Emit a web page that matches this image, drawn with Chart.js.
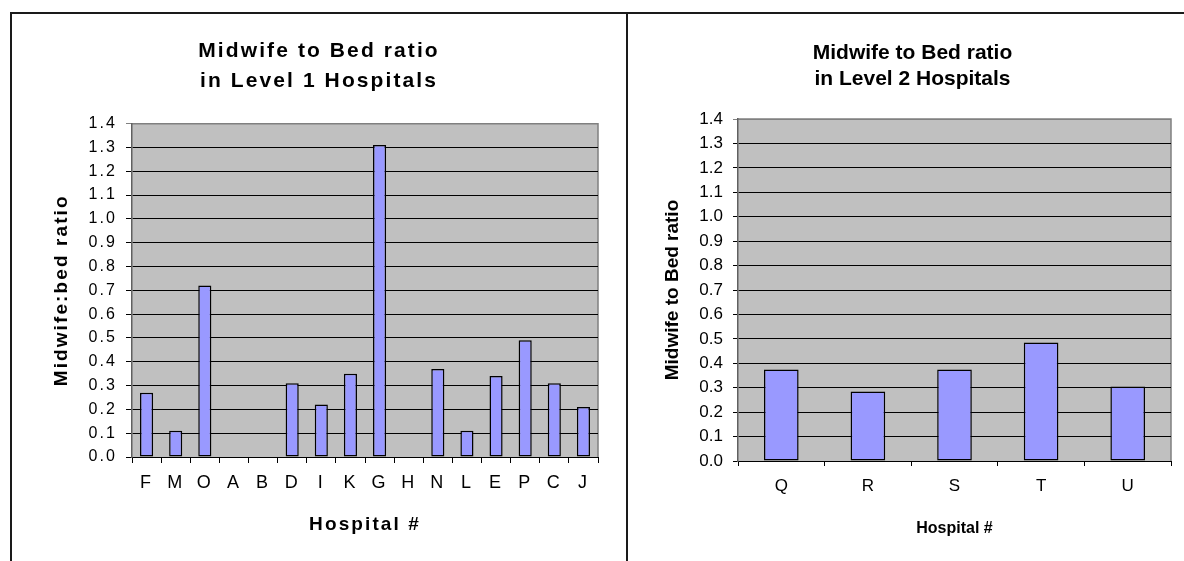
<!DOCTYPE html>
<html>
<head>
<meta charset="utf-8">
<script src="https://cdn.jsdelivr.net/npm/chart.js@4/dist/chart.umd.min.js"></script>
<style>
html, body { margin: 0; padding: 0; background: #fff; }
body { width: 1184px; height: 561px; position: relative; overflow: hidden; }
.rule { position: absolute; background: #1a1a1a; }
.panel { position: absolute; }
</style>
</head>
<body>
<div class="rule" style="left:10px;top:12px;width:1174px;height:2px"></div>
<div class="rule" style="left:10px;top:12px;width:2px;height:549px"></div>
<div class="rule" style="left:626px;top:12px;width:2px;height:549px"></div>
<div class="panel" style="left:12px;top:14px;width:614px;height:547px"><canvas id="level1"></canvas></div>
<div class="panel" style="left:628px;top:14px;width:556px;height:547px"><canvas id="level2"></canvas></div>
<script>
// Level 1 hospitals
const level1Hospitals = ['F', 'M', 'O', 'A', 'B', 'D', 'I', 'K', 'G', 'H', 'N', 'L', 'E', 'P', 'C', 'J'];
const level1Ratios = [0.27, 0.11, 0.72, 0, 0, 0.31, 0.22, 0.35, 1.31, 0, 0.37, 0.11, 0.34, 0.49, 0.31, 0.21];

// Level 2 hospitals
const level2Hospitals = ['Q', 'R', 'S', 'T', 'U'];
const level2Ratios = [0.375, 0.285, 0.375, 0.485, 0.305];

const yTicks = ['0.0', '0.1', '0.2', '0.3', '0.4', '0.5', '0.6', '0.7', '0.8', '0.9', '1.0', '1.1', '1.2', '1.3', '1.4'];

const family = '"Liberation Sans", Arial, sans-serif';

const plotFrame = {
    id: 'plotFrame',
    beforeDraw(chart) {
        const { ctx, chartArea: a } = chart;
        ctx.save();
        ctx.fillStyle = '#c0c0c0';
        ctx.fillRect(a.left, a.top, a.right - a.left, a.bottom - a.top);
        ctx.strokeStyle = '#808080';
        ctx.lineWidth = 1.5;
        ctx.beginPath();
        ctx.moveTo(a.left, a.top);
        ctx.lineTo(a.right, a.top);
        ctx.lineTo(a.right, a.bottom);
        ctx.stroke();
        ctx.restore();
    }
};

const spacing = (px) => ({
    id: 'spacing',
    beforeLayout(chart) { chart.ctx.letterSpacing = px; },
    beforeDraw(chart) { chart.ctx.letterSpacing = px; }
});

const gridColor = (c) => (c.tick && c.tick.value > 1.39 ? '#808080' : '#000');

const makeChart = (id, cfg) => new Chart(document.getElementById(id), {
    type: 'bar',
    data: {
        labels: cfg.labels,
        datasets: [{
            data: cfg.values,
            backgroundColor: '#9999ff',
            borderColor: '#000',
            borderWidth: 1.5,
            borderSkipped: false,
            categoryPercentage: 1,
            barPercentage: cfg.barPct
        }]
    },
    options: {
        responsive: true,
        maintainAspectRatio: false,
        animation: false,
        layout: { padding: { left: cfg.padLeft, right: cfg.padRight, top: 0, bottom: 0 } },
        plugins: {
            legend: { display: false },
            tooltip: { enabled: false },
            title: {
                display: true,
                text: cfg.title,
                color: '#000',
                font: { family, size: cfg.titleSize, weight: 'bold', lineHeight: cfg.titleLH },
                padding: cfg.titlePad
            }
        },
        scales: {
            x: {
                afterFit(s) { s.height = cfg.xHeight; },
                ticks: { color: '#000', font: { family, size: cfg.xTickSize }, padding: cfg.xTickPad, maxRotation: 0, autoSkip: false },
                grid: { offset: true, drawOnChartArea: false, drawTicks: true, tickLength: cfg.tickLen, color: '#000' },
                border: { color: '#000', width: 1 },
                title: {
                    display: true, text: 'Hospital #', color: '#000',
                    font: { family, size: cfg.xTitleSize, weight: 'bold' },
                    padding: { top: 0, bottom: cfg.xTitlePad }
                }
            },
            y: {
                min: 0,
                max: 1.4,
                afterFit(s) { s.width = cfg.yWidth; },
                ticks: {
                    stepSize: 0.1,
                    autoSkip: false,
                    color: '#000',
                    font: { family, size: cfg.yTickSize },
                    padding: cfg.yTickPad,
                    callback: (v) => yTicks.find(t => Math.abs(parseFloat(t) - v) < 1e-6)
                },
                grid: { color: gridColor, lineWidth: 1, tickLength: cfg.tickLen },
                border: { color: '#606060', width: 1.5 },
                title: {
                    display: true, text: cfg.yTitle, color: '#000',
                    font: { family, size: cfg.yTitleSize, weight: 'bold' },
                    padding: { top: cfg.yTitlePad, bottom: 0 }
                }
            }
        }
    },
    plugins: [plotFrame, spacing(cfg.letterSpacing)]
});

makeChart('level1', {
    labels: level1Hospitals,
    values: level1Ratios,
    barPct: 0.45,
    padLeft: 28,
    padRight: 28,
    title: ['Midwife to Bed ratio', 'in Level 1 Hospitals'],
    titleSize: 21,
    titleLH: 1.42,
    titlePad: { top: 22, bottom: 28 },
    xHeight: 104,
    xTickSize: 18,
    yTickSize: 16,
    xTickPad: 9,
    tickLen: 6,
    xTitleSize: 19,
    xTitlePad: 25,
    yWidth: 92,
    yTickPad: 9,
    yTitle: 'Midwife:bed ratio',
    yTitleSize: 19,
    yTitlePad: 10,
    letterSpacing: '2.1px'
});

makeChart('level2', {
    labels: level2Hospitals,
    values: level2Ratios,
    barPct: 0.40,
    padLeft: 26,
    padRight: 13,
    title: ['Midwife to Bed ratio', 'in Level 2 Hospitals'],
    titleSize: 21,
    titleLH: 1.25,
    titlePad: { top: 26, bottom: 26.5 },
    xHeight: 100,
    xTickSize: 17,
    yTickSize: 17,
    xTickPad: 10,
    tickLen: 5,
    xTitleSize: 16,
    xTitlePad: 23,
    yWidth: 84,
    yTickPad: 10,
    yTitle: 'Midwife to Bed ratio',
    yTitleSize: 19,
    yTitlePad: 7,
    letterSpacing: '0px'
});
</script>
</body>
</html>
